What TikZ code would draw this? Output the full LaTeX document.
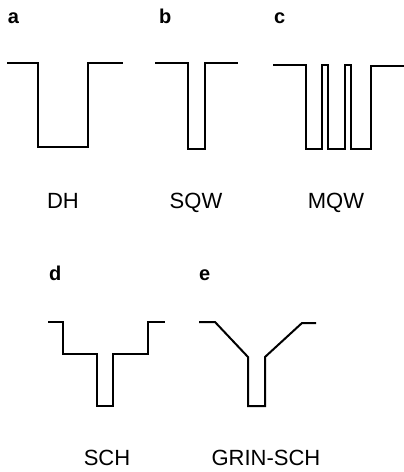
\documentclass[tikz,border=0pt]{standalone}
\usepackage{fontspec}
\setmainfont{Liberation Sans}

\begin{document}
\begin{tikzpicture}[x=1pt, y=-1pt, line width=2pt,
    panel/.style={font=\fontsize{20}{20}\selectfont\bfseries, anchor=base west, inner sep=0pt},
    kind/.style={font=\fontsize{22}{22}\selectfont, anchor=base, inner sep=0pt}]
    \useasboundingbox (0,0) rectangle (404,472);

    % a: double heterostructure
    \node[panel] (la) at (7,23) {a};
    \draw (7,63) -- (38,63) -- (38,147) -- (88,147) -- (88,63) -- (123,63);
    \node[kind] (dh) at (63,208) {DH};

    % b: single quantum well
    \node[panel] (lb) at (158,23) {b};
    \draw (155,63) -- (188,63) -- (188,149) -- (205,149) -- (205,63) -- (238,63);
    \node[kind] (sqw) at (196,208) {SQW};

    % c: multiple quantum wells
    \node[panel] (lc) at (273,23) {c};
    \draw (273,65) -- (306,65) -- (306,149) -- (322,149) -- (322,65)
      -- (328,65) -- (328,149) -- (345,149) -- (345,65)
      -- (351,65) -- (351,149) -- (371,149) -- (371,66) -- (404,66);
    \node[kind] (mqw) at (336,208) {MQW};

    % d: separate confinement
    \node[panel] (ld) at (48,280) {d};
    \draw (48,322) -- (63,322) -- (63,354) -- (97,354) -- (97,406)
      -- (113,406) -- (113,354) -- (148,354) -- (148,322) -- (165,322);
    \node[kind] (sch) at (107,465) {SCH};

    % e: graded index
    \node[panel] (le) at (198,280) {e};
    \draw (199,322) -- (215,322) -- (248,357) -- (248,406)
      -- (265,406) -- (265,357) -- (302,323) -- (316,323);
    \node[kind] (grin) at (266,465) {GRIN-SCH};
  \end{tikzpicture}
\end{document}
